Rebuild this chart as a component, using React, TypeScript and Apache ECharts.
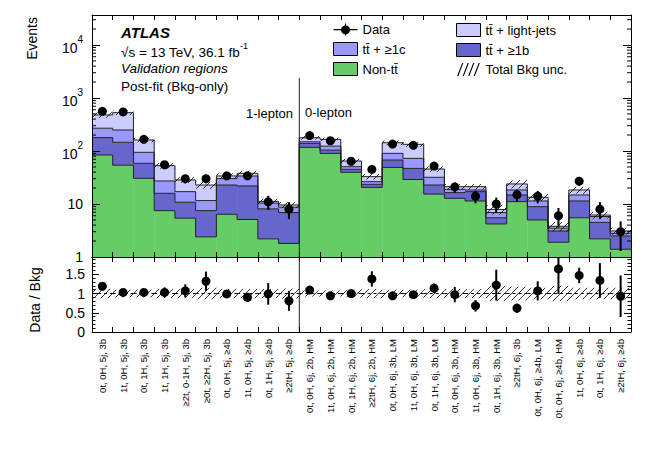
import React, { useEffect, useRef } from 'react';
import * as echarts from 'echarts';

const categories = [
  '0t, 0H, 5j, 3b', '1t, 0H, 5j, 3b', '0t, 1H, 5j, 3b', '1t, 1H, 5j, 3b', '≥2t, 0-1H, 5j, 3b', '≥0t, ≥2H, 5j, 3b',
  '0t, 0H, 5j, ≥4b', '1t, 0H, 5j, ≥4b', '0t, 1H, 5j, ≥4b', '≥2tH, 5j, ≥4b',
  '0t, 0H, 6j, 2b, HM', '1t, 0H, 6j, 2b, HM', '0t, 1H, 6j, 2b, HM', '≥2tH, 6j, 2b, HM',
  '0t, 0H, 6j, 3b, LM', '1t, 0H, 6j, 3b, LM', '0t, 1H, 6j, 3b, LM',
  '0t, 0H, 6j, 3b, HM', '1t, 0H, 6j, 3b, HM', '0t, 1H, 6j, 3b, HM', '≥2tH, 6j, 3b',
  '0t, 0H, 6j, ≥4b, LM', '0t, 0H, 6j, ≥4b, HM', '1t, 0H, 6j, ≥4b', '0t, 1H, 6j, ≥4b', '≥2tH, 6j, ≥4b',
];

// stacked background components (bottom to top)
const nonTtbar = [84, 54, 30.5, 7.5, 5.4, 2.4, 6.4, 5.1, 2.2, 1.8, 117, 90, 39.6, 20.6, 49, 29, 15.4, 12.8, 11.4, 4.2, 11.1, 5.0, 1.9, 5.5, 2.2, 1.4];
const ttb = [95, 92, 28, 8.4, 5.4, 5.1, 16.4, 16.8, 5.9, 5.1, 22, 14, 5.5, 2.9, 18.5, 18, 7.4, 3.6, 5.7, 1.3, 3.7, 3.9, 1.2, 5.9, 2.3, 1.1];
const ttc = [90, 103, 36, 11.3, 6.3, 4.1, 7.3, 11.9, 2.3, 1.8, 10.4, 19.5, 5.5, 2.9, 22.7, 25.6, 9.1, 2.5, 1.3, 1.4, 3.6, 2.5, 0.4, 3.4, 1.3, 0.3];
const ttlight = [210, 280, 67, 25.7, 11.3, 11.2, 3.7, 4.1, 0.8, 0.9, 28.5, 42, 14.2, 6.4, 53, 61, 13.8, 2.3, 2.8, 1.0, 5.5, 2.0, 0.3, 3.6, 0.4, 0.3];

// relative total background uncertainty
const bkgUnc = [0.12, 0.1, 0.1, 0.12, 0.12, 0.15, 0.12, 0.12, 0.12, 0.13, 0.08, 0.08, 0.1, 0.12, 0.1, 0.1, 0.12, 0.12, 0.12, 0.2, 0.18, 0.15, 0.2, 0.15, 0.15, 0.15];

// data
const dataVals = [560, 545, 166, 55, 30, 30, 34, 34, 11, 8, 195, 156, 64, 45, 135, 128, 52, 21, 14, 10, 15, 14, 6, 27, 8, 3];
const dataErr = [23.7, 23.3, 12.9, 7.4, 5.5, 5.5, 5.8, 5.8, 3.3, 2.8, 14, 12.5, 8, 6.7, 11.6, 11.3, 7.2, 4.6, 3.7, 3.2, 3.9, 3.7, 2.4, 5.2, 2.8, 1.7];

// ratio panel
const ratioVals = [1.19, 1.03, 1.03, 1.03, 1.07, 1.32, 0.99, 0.9, 0.99, 0.81, 1.09, 0.94, 1.0, 1.38, 0.94, 0.97, 1.14, 0.97, 0.68, 1.22, 0.62, 1.07, 1.64, 1.47, 1.34, 0.93];
const ratioErr = [0.05, 0.05, 0.08, 0.13, 0.17, 0.25, 0.1, 0.12, 0.28, 0.26, 0.05, 0.05, 0.08, 0.2, 0.06, 0.06, 0.12, 0.2, 0.15, 0.4, 0.12, 0.25, 0.65, 0.2, 0.45, 0.54];

// log-axis decades (for minor ticks)
const logDecades = [1, 10, 100, 1000, 10000];

const FONT = "'Liberation Sans', Arial, Helvetica, sans-serif";
const Y_MIN = 1;
const Y_MAX = 36800;
const R_MAX = 1.95;
const DIVIDER_INDEX = 10;
const HATCH_SPACING = 7;

const compNames = ['Non-tt\u0304', 'tt\u0304 + ≥1b', 'tt\u0304 + ≥1c', 'tt\u0304 + light-jets'];
const compColors = ['#66cc66', '#6666cc', '#9999ff', '#ccccff'];

function hatchLines(x0: number, x1: number, yTop: number, yBot: number, spacing: number) {
  const out: any[] = [];
  const cStart = Math.ceil((x0 + yTop) / spacing) * spacing;
  for (let c = cStart; c <= x1 + yBot; c += spacing) {
    const xa = Math.max(x0, c - yBot);
    const xb = Math.min(x1, c - yTop);
    if (xb > xa) {
      out.push({ type: 'line', shape: { x1: xa, y1: c - xa, x2: xb, y2: c - xb }, style: { stroke: '#000', lineWidth: 0.8 } });
    }
  }
  return out;
}

function bandW(api: any) {
  return api.coord([1, 1])[0] - api.coord([0, 1])[0];
}

function buildOption() {
  const comps = [nonTtbar, ttb, ttc, ttlight];
  const cum = comps.map((_, k) => categories.map((__, i) => comps.slice(0, k + 1).reduce((s, a) => s + a[i], 0)));
  const total = cum[3];
  const n = categories.length;

  const minorTickVals: number[] = [];
  logDecades.forEach((d) => {
    for (let m = 2; m <= 9; m++) if (d * m < Y_MAX) minorTickVals.push(d * m);
  });

  const fillSeries = comps.map((_, k) => ({
    type: 'custom',
    name: compNames[k],
    xAxisIndex: 0,
    yAxisIndex: 0,
    silent: true,
    z: 2,
    itemStyle: { color: compColors[k] },
    encode: { x: 0, y: [1, 2] },
    data: categories.map((__, i) => [i, k === 0 ? Y_MIN : cum[k - 1][i], cum[k][i]]),
    renderItem: (_p: any, api: any) => {
      const i = api.value(0);
      const a = api.coord([i, api.value(1)]);
      const b = api.coord([i, api.value(2)]);
      const w = bandW(api);
      return {
        type: 'rect',
        shape: { x: a[0] - w / 2, y: b[1], width: w + 0.4, height: a[1] - b[1] },
        style: { fill: compColors[k] },
      };
    },
  }));

  const outlineSeries = {
    type: 'custom',
    xAxisIndex: 0,
    yAxisIndex: 0,
    silent: true,
    z: 3,
    encode: { x: 0, y: 1 },
    data: categories.map((_, i) => [i, total[i]]),
    renderItem: (_p: any, api: any) => {
      const i = api.value(0);
      const w = bandW(api);
      const children: any[] = [];
      const st = { stroke: '#222', lineWidth: 1 };
      for (let k = 0; k < 4; k++) {
        const p0 = api.coord([i, cum[k][i]]);
        children.push({ type: 'line', shape: { x1: p0[0] - w / 2, y1: p0[1], x2: p0[0] + w / 2, y2: p0[1] }, style: st });
        if (i < n - 1) {
          const p1 = api.coord([i + 1, cum[k][i + 1]]);
          children.push({ type: 'line', shape: { x1: p0[0] + w / 2, y1: p0[1], x2: p0[0] + w / 2, y2: p1[1] }, style: st });
        }
      }
      return { type: 'group', children };
    },
  };

  const minorTickSeries = {
    type: 'custom',
    xAxisIndex: 0,
    yAxisIndex: 0,
    silent: true,
    z: 8,
    encode: { x: 0, y: 1 },
    data: minorTickVals.map((v) => [0, v]),
    renderItem: (_p: any, api: any) => {
      const v = api.value(1);
      const w = bandW(api);
      const l = api.coord([0, v]);
      const r = api.coord([n - 1, v]);
      const xl = l[0] - w / 2;
      const xr = r[0] + w / 2;
      const st = { stroke: '#000', lineWidth: 1 };
      return {
        type: 'group',
        children: [
          { type: 'line', shape: { x1: xl, y1: l[1], x2: xl + 4, y2: l[1] }, style: st },
          { type: 'line', shape: { x1: xr - 4, y1: l[1], x2: xr, y2: l[1] }, style: st },
        ],
      };
    },
  };

  const hatchTopSeries = {
    type: 'custom',
    name: 'Total Bkg unc.',
    xAxisIndex: 0,
    yAxisIndex: 0,
    silent: true,
    z: 4,
    itemStyle: { color: '#000' },
    encode: { x: 0, y: [1, 2] },
    data: categories.map((_, i) => [i, total[i] * (1 - bkgUnc[i]), total[i] * (1 + bkgUnc[i])]),
    renderItem: (_p: any, api: any) => {
      const i = api.value(0);
      const lo = api.coord([i, api.value(1)]);
      const hi = api.coord([i, api.value(2)]);
      const w = bandW(api);
      return { type: 'group', children: hatchLines(lo[0] - w / 2, lo[0] + w / 2, hi[1], lo[1], HATCH_SPACING) };
    },
  };

  const dataSeries = {
    type: 'custom',
    name: 'Data',
    xAxisIndex: 0,
    yAxisIndex: 0,
    silent: true,
    z: 6,
    itemStyle: { color: '#000' },
    encode: { x: 0, y: 1 },
    data: categories.map((_, i) => [i, dataVals[i], dataErr[i]]),
    renderItem: (_p: any, api: any) => {
      const i = api.value(0);
      const v = api.value(1);
      const e = api.value(2);
      const c = api.coord([i, v]);
      const up = api.coord([i, v + e]);
      const dn = api.coord([i, Math.max(v - e, Y_MIN)]);
      return {
        type: 'group',
        children: [
          { type: 'line', shape: { x1: c[0], y1: up[1], x2: c[0], y2: dn[1] }, style: { stroke: '#000', lineWidth: 2 } },
          { type: 'circle', shape: { cx: c[0], cy: c[1], r: 4.5 }, style: { fill: '#000' } },
        ],
      };
    },
  };

  const hatchRatioSeries = {
    type: 'custom',
    xAxisIndex: 2,
    yAxisIndex: 2,
    silent: true,
    z: 4,
    encode: { x: 0, y: [1, 2] },
    data: categories.map((_, i) => [i, 1 - bkgUnc[i], 1 + bkgUnc[i]]),
    renderItem: (_p: any, api: any) => {
      const i = api.value(0);
      const lo = api.coord([i, api.value(1)]);
      const hi = api.coord([i, api.value(2)]);
      const one = api.coord([i, 1]);
      const w = bandW(api);
      return {
        type: 'group',
        children: [
          { type: 'line', shape: { x1: one[0] - w / 2, y1: one[1], x2: one[0] + w / 2, y2: one[1] }, style: { stroke: '#000', lineWidth: 1, lineDash: [3, 3] } },
          ...hatchLines(lo[0] - w / 2, lo[0] + w / 2, hi[1], lo[1], HATCH_SPACING),
        ],
      };
    },
  };

  const ratioSeries = {
    type: 'custom',
    xAxisIndex: 2,
    yAxisIndex: 2,
    silent: true,
    z: 6,
    encode: { x: 0, y: 1 },
    data: categories.map((_, i) => [i, ratioVals[i], ratioErr[i]]),
    renderItem: (_p: any, api: any) => {
      const i = api.value(0);
      const v = api.value(1);
      const e = api.value(2);
      const c = api.coord([i, v]);
      const up = api.coord([i, Math.min(v + e, R_MAX)]);
      const dn = api.coord([i, Math.max(v - e, 0)]);
      return {
        type: 'group',
        children: [
          { type: 'line', shape: { x1: c[0], y1: up[1], x2: c[0], y2: dn[1] }, style: { stroke: '#000', lineWidth: 2 } },
          { type: 'circle', shape: { cx: c[0], cy: c[1], r: 4.5 }, style: { fill: '#000' } },
        ],
      };
    },
  };

  const dividerTop = {
    type: 'custom',
    xAxisIndex: 0,
    yAxisIndex: 0,
    silent: true,
    z: 7,
    encode: { x: 0, y: 1 },
    data: [[DIVIDER_INDEX, 2400]],
    renderItem: (_p: any, api: any) => {
      const i = api.value(0);
      const w = bandW(api);
      const t = api.coord([i, api.value(1)]);
      const b = api.coord([i, Y_MIN]);
      return { type: 'line', shape: { x1: t[0] - w / 2, y1: t[1], x2: t[0] - w / 2, y2: b[1] }, style: { stroke: '#222', lineWidth: 1 } };
    },
  };

  const dividerBottom = {
    type: 'custom',
    xAxisIndex: 2,
    yAxisIndex: 2,
    silent: true,
    z: 7,
    encode: { x: 0, y: 1 },
    data: [[DIVIDER_INDEX, R_MAX]],
    renderItem: (_p: any, api: any) => {
      const i = api.value(0);
      const w = bandW(api);
      const t = api.coord([i, api.value(1)]);
      const b = api.coord([i, 0]);
      return { type: 'line', shape: { x1: t[0] - w / 2, y1: t[1], x2: t[0] - w / 2, y2: b[1] }, style: { stroke: '#222', lineWidth: 1 } };
    },
  };

  const xBase = (gridIndex: number, position: string, showLabels: boolean) => ({
    type: 'category',
    gridIndex,
    position,
    data: categories,
    boundaryGap: true,
    z: 10,
    axisLine: { show: true, onZero: false, lineStyle: { color: '#000', width: 1 } },
    axisTick: { show: true, inside: true, length: 5, interval: 0, lineStyle: { color: '#000' } },
    axisLabel: showLabels
      ? { show: true, rotate: 90, interval: 0, fontSize: 9.5, fontFamily: FONT, color: '#000', margin: 7 }
      : { show: false },
    splitLine: { show: false },
  });

  const logFormatter = (v: number) => {
    const e = Math.round(Math.log10(v));
    if (Math.abs(Math.log10(v) - e) > 1e-6) return '';
    if (e === 0) return '1';
    if (e === 1) return '10';
    return '{b|10}{s|' + e + '}';
  };

  const yLog = (position: string, showLabels: boolean) => ({
    type: 'log',
    logBase: 10,
    gridIndex: 0,
    position,
    min: Y_MIN,
    max: Y_MAX,
    z: 10,
    axisLine: { show: true, lineStyle: { color: '#000', width: 1 } },
    axisTick: { show: true, inside: true, length: 8, lineStyle: { color: '#000' } },
    minorTick: { show: false },
    splitLine: { show: false },
    axisLabel: showLabels
      ? {
          show: true,
          formatter: logFormatter,
          showMaxLabel: false,
          fontSize: 14,
          fontFamily: FONT,
          color: '#000',
          margin: 9,
          rich: {
            b: { fontSize: 14, fontFamily: FONT, color: '#000', lineHeight: 20, verticalAlign: 'bottom' },
            s: { fontSize: 10, fontFamily: FONT, color: '#000', lineHeight: 10, verticalAlign: 'top' },
          },
        }
      : { show: false },
  });

  const yRatio = (position: string, showLabels: boolean) => ({
    type: 'value',
    gridIndex: 1,
    position,
    min: 0,
    max: R_MAX,
    interval: 0.5,
    z: 10,
    axisLine: { show: true, lineStyle: { color: '#000', width: 1 } },
    axisTick: { show: true, inside: true, length: 7, lineStyle: { color: '#000' } },
    minorTick: { show: true, splitNumber: 5, length: 3.5, lineStyle: { color: '#000' } },
    splitLine: { show: false },
    axisLabel: showLabels
      ? { show: true, showMaxLabel: false, fontSize: 14, fontFamily: FONT, color: '#000', margin: 7, formatter: (v: number) => String(v) }
      : { show: false },
  });

  const dataIcon = 'path://M0,6 L24,6 L24,7.2 L0,7.2 Z M11.4,0.5 L12.6,0.5 L12.6,12.5 L11.4,12.5 Z M16.5,6.5 A4.5,4.5 0 1 1 16.49,6.4 Z';
  const hatchIcon = 'path://M0,13 L1.2,13 L6.2,0 L5,0 Z M5.5,13 L6.7,13 L11.7,0 L10.5,0 Z M11,13 L12.2,13 L17.2,0 L16,0 Z M16.5,13 L17.7,13 L22.7,0 L21.5,0 Z';

  const legendCommon = {
    orient: 'vertical',
    top: 18,
    padding: 5,
    itemWidth: 24,
    itemHeight: 13,
    itemGap: 6,
    selectedMode: false,
    textStyle: { fontSize: 13, lineHeight: 13, fontFamily: FONT, color: '#000' },
  };
  const boxStyle = { borderColor: '#000', borderWidth: 1 };

  return {
    animation: false,
    backgroundColor: '#fff',
    textStyle: { fontFamily: FONT },
    grid: [
      { left: 92, right: 33, top: 15, height: 242 },
      { left: 92, right: 33, top: 257, height: 75 },
    ],
    xAxis: [xBase(0, 'bottom', false), xBase(0, 'top', false), xBase(1, 'bottom', true), xBase(1, 'top', false)],
    yAxis: [yLog('left', true), yLog('right', false), yRatio('left', true), yRatio('right', false)],
    legend: [
      {
        ...legendCommon,
        left: 328,
        data: [
          { name: 'Data', icon: dataIcon, itemStyle: { color: '#000' } },
          { name: compNames[2], icon: 'rect', itemStyle: { color: compColors[2], ...boxStyle } },
          { name: compNames[0], icon: 'rect', itemStyle: { color: compColors[0], ...boxStyle } },
        ],
      },
      {
        ...legendCommon,
        left: 451,
        data: [
          { name: compNames[3], icon: 'rect', itemStyle: { color: compColors[3], ...boxStyle } },
          { name: compNames[1], icon: 'rect', itemStyle: { color: compColors[1], ...boxStyle } },
          { name: 'Total Bkg unc.', icon: hatchIcon, itemStyle: { color: '#000' } },
        ],
      },
    ],
    graphic: [
      { type: 'text', x: 32, y: 17, rotation: Math.PI / 2, style: { text: 'Events', fontSize: 14, fontFamily: FONT, fill: '#000', align: 'right', verticalAlign: 'middle' } },
      { type: 'text', x: 35, y: 300, rotation: Math.PI / 2, style: { text: 'Data / Bkg', fontSize: 14, fontFamily: FONT, fill: '#000', align: 'center', verticalAlign: 'middle' } },
      { type: 'text', x: 121, y: 32, style: { text: 'ATLAS', fontSize: 15, fontWeight: 'bold', fontStyle: 'italic', fontFamily: FONT, fill: '#000', align: 'left', verticalAlign: 'middle' } },
      {
        type: 'text', x: 121, y: 50,
        style: {
          text: '{b|√s = 13 TeV, 36.1 fb}{s|-1}',
          align: 'left', verticalAlign: 'middle', fill: '#000', fontFamily: FONT,
          rich: {
            b: { fontSize: 13.5, fontFamily: FONT, fill: '#000', lineHeight: 18, verticalAlign: 'bottom' },
            s: { fontSize: 9, fontFamily: FONT, fill: '#000', lineHeight: 9, verticalAlign: 'top' },
          },
        },
      },
      { type: 'text', x: 121, y: 68, style: { text: 'Validation regions', fontSize: 13.5, fontStyle: 'italic', fontFamily: FONT, fill: '#000', align: 'left', verticalAlign: 'middle' } },
      { type: 'text', x: 121, y: 86, style: { text: 'Post-fit (Bkg-only)', fontSize: 13.5, fontFamily: FONT, fill: '#000', align: 'left', verticalAlign: 'middle' } },
      { type: 'text', x: 293, y: 113, style: { text: '1-lepton', fontSize: 13, fontFamily: FONT, fill: '#000', align: 'right', verticalAlign: 'middle' } },
      { type: 'text', x: 305, y: 112, style: { text: '0-lepton', fontSize: 13, fontFamily: FONT, fill: '#000', align: 'left', verticalAlign: 'middle' } },
    ],
    series: [
      ...fillSeries,
      outlineSeries,
      hatchTopSeries,
      dataSeries,
      hatchRatioSeries,
      ratioSeries,
      dividerTop,
      dividerBottom,
      minorTickSeries,
    ],
  };
}

export default function App() {
  const ref = useRef<HTMLDivElement>(null);
  useEffect(() => {
    document.body.style.margin = '0';
    const chart = echarts.init(ref.current as HTMLDivElement, null, { renderer: 'svg' });
    chart.setOption(buildOption() as any);
    return () => chart.dispose();
  }, []);
  return <div ref={ref} style={{ width: 664, height: 449, background: '#fff' }} />;
}
